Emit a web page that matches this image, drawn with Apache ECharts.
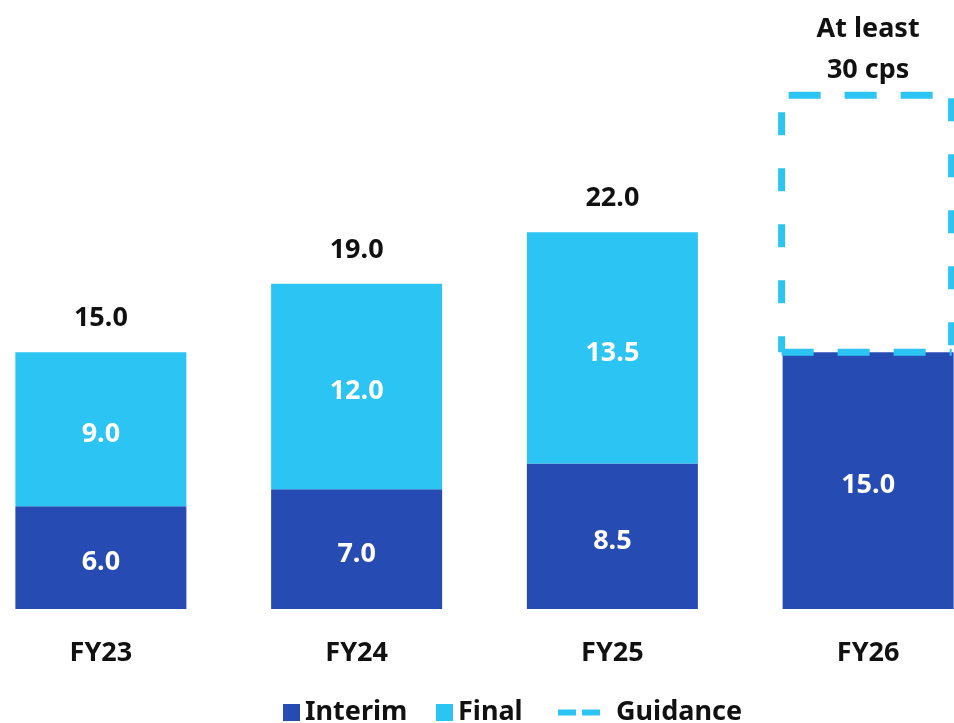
<!DOCTYPE html>
<html>
<head>
<meta charset="utf-8">
<script src="https://cdn.jsdelivr.net/npm/echarts@6/dist/echarts.min.js"></script>
<style>
  html, body { margin: 0; padding: 0; background: #ffffff; }
  #chart { width: 954px; height: 723px; }
</style>
</head>
<body>
<div id="chart"></div>
<script>
// Dividend per share (cents) by financial year
const years = ['FY23', 'FY24', 'FY25', 'FY26'];
const interim = [6.0, 7.0, 8.5, 15.0];
const finalDiv = [9.0, 12.0, 13.5, '-'];
const guidance = ['-', '-', '-', 15.0];
const totals = [15.0, 19.0, 22.0, '-'];
const guidanceLabel = 'At least\n30 cps';

const DARK = '#264BB3';
const LIGHT = '#2CC4F3';
const FONT = 'Noto Sans';
const FS = 27;
const BAR_W = 171;

const chart = echarts.init(document.getElementById('chart'));

const legendBase = {
  orient: 'horizontal',
  top: 699,
  padding: 0,
  itemGap: 0,
  selectedMode: false,
  textStyle: { fontFamily: FONT, fontWeight: 'bold', fontSize: FS, color: '#111111' }
};

const innerLabel = {
  show: true, position: 'inside', offset: [0, 5], color: '#ffffff',
  fontFamily: FONT, fontWeight: 'bold', fontSize: FS,
  formatter: p => p.value.toFixed(1)
};

// dashed outline for the guidance range: [category index, low, high]
const guidanceBoxes = guidance
  .map((g, i) => (g === '-' ? null : [i, interim[i], interim[i] + g]))
  .filter(d => d !== null);

function renderGuidanceBox(params, api) {
  const low = api.coord([api.value(0), api.value(1)]);
  const high = api.coord([api.value(0), api.value(2)]);
  const half = BAR_W / 2;
  const L = low[0] - half - 1;
  const R = low[0] + half - 2;
  const T = high[1];
  const B = low[1];
  const line = (x1, y1, x2, y2, dash, offset) => ({
    type: 'line',
    shape: { x1, y1, x2, y2 },
    style: { stroke: LIGHT, lineWidth: 7, lineDash: dash, lineDashOffset: offset, fill: null }
  });
  return {
    type: 'group',
    children: [
      line(L, T, R, T, [32, 24], 49),
      line(R, T, R, B, [23, 33], 53),
      line(L, B, R, B, [32, 24], 0),
      line(L, T, L, B, [23, 33], 39)
    ]
  };
}

chart.setOption({
  animation: false,
  textStyle: { fontFamily: FONT },
  grid: { left: -27, right: -42, top: 61, bottom: 114, containLabel: false, outerBoundsMode: 'none' },
  legend: [
    Object.assign({}, legendBase, {
      left: 283, itemWidth: 17, itemHeight: 17,
      data: [{ name: 'Interim', icon: 'rect' }]
    }),
    Object.assign({}, legendBase, {
      left: 436, itemWidth: 17, itemHeight: 17,
      data: [{ name: 'Final', icon: 'rect' }]
    }),
    Object.assign({}, legendBase, {
      left: 558, itemWidth: 42, itemHeight: 6,
      data: [{
        name: 'Guidance',
        icon: 'path://M0,0h18v6h-18z M24,0h18v6h-18z',
        itemStyle: { color: LIGHT, borderWidth: 0 }
      }],
      textStyle: Object.assign({}, legendBase.textStyle, { padding: [0, 0, 0, 11] })
    })
  ],
  xAxis: {
    type: 'category',
    data: years,
    axisLine: { show: false },
    axisTick: { show: false },
    axisLabel: {
      margin: 31,
      fontFamily: FONT, fontWeight: 'bold', fontSize: FS, color: '#111111'
    }
  },
  yAxis: { type: 'value', min: 0, max: 32, show: false, splitLine: { show: false } },
  series: [
    {
      name: 'Interim', type: 'bar', stack: 'dps', barWidth: BAR_W,
      data: interim,
      itemStyle: { color: DARK },
      label: innerLabel
    },
    {
      name: 'Final', type: 'bar', stack: 'dps', barWidth: BAR_W,
      data: finalDiv,
      itemStyle: { color: LIGHT },
      label: innerLabel
    },
    {
      // guidance range: invisible fill, carries the label above it
      name: 'Guidance', type: 'bar', stack: 'dps', barWidth: BAR_W,
      data: guidance,
      itemStyle: { color: 'rgba(0,0,0,0)' },
      label: {
        show: true, position: 'top', distance: 4, color: '#111111',
        fontFamily: FONT, fontWeight: 'bold', fontSize: FS, lineHeight: 41,
        formatter: () => guidanceLabel
      }
    },
    {
      name: 'Total', type: 'bar', stack: 'dps', barWidth: BAR_W,
      data: totals.map(t => (t === '-' ? '-' : 0)),
      itemStyle: { color: 'rgba(0,0,0,0)' },
      label: {
        show: true, position: 'top', distance: 20, color: '#111111',
        fontFamily: FONT, fontWeight: 'bold', fontSize: FS,
        formatter: p => totals[p.dataIndex].toFixed(1)
      }
    },
    {
      name: 'Guidance outline', type: 'custom',
      renderItem: renderGuidanceBox,
      data: guidanceBoxes,
      encode: { x: 0, y: [1, 2] },
      clip: false,
      z: 5
    }
  ]
});
</script>
</body>
</html>
